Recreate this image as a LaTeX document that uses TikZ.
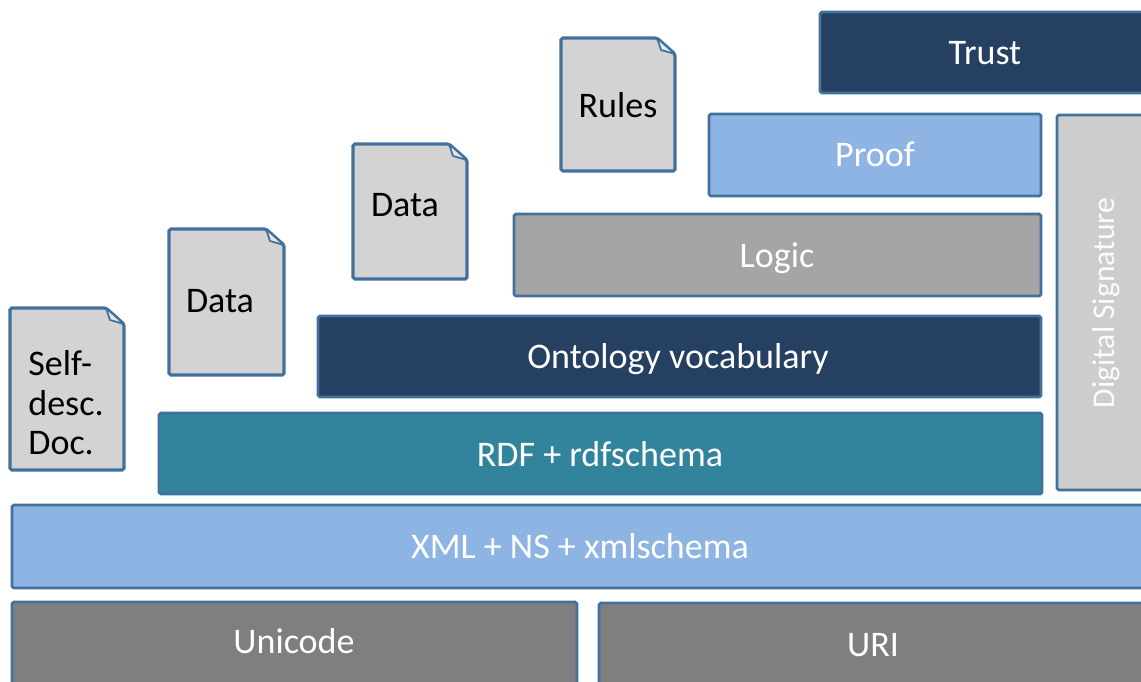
\documentclass[tikz,border=0pt]{standalone}
\usepackage{fontspec}
\setmainfont{Carlito}
\definecolor{edge}{HTML}{41719C}
\definecolor{navy}{HTML}{254061}
\definecolor{skyblue}{HTML}{8EB4E3}
\definecolor{midgray}{HTML}{A5A5A5}
\definecolor{darkgray}{HTML}{7F7F7F}
\definecolor{teal}{HTML}{31849B}
\definecolor{siggray}{HTML}{CDCDCD}
\definecolor{docgray}{HTML}{D3D3D3}
\tikzset{
  layer/.style={draw=edge, line width=1.6pt, rounded corners=1pt},
  doc/.style={draw=edge, fill=docgray, line width=1.8pt, rounded corners=1pt},
  fold/.style={draw=edge, fill=docgray!80!edge!40, line width=1pt, line join=round},
  txt/.style={text=white, font=\fontsize{20.5}{22.5}\selectfont, text height=13.2pt, text depth=0pt},
  doctxt/.style={txt, text=black, align=left}
}
\begin{document}
\begin{tikzpicture}[x=0.02cm,y=-0.02cm]
\useasboundingbox (0,0) rectangle (1141,681);
\clip (0,0) rectangle (1141,681);
% the stack of layers
\filldraw[layer, fill=navy] (820,12) rectangle (1150,93);
\filldraw[layer, fill=skyblue] (709,114) rectangle (1041,196);
\filldraw[layer, fill=midgray] (514,214) rectangle (1041,296);
\filldraw[layer, fill=navy] (318,316) rectangle (1041,397);
\filldraw[layer, fill=teal] (159,413) rectangle (1042,494);
\filldraw[layer, fill=skyblue] (12,505) rectangle (1148,588);
\filldraw[layer, fill=darkgray] (12,602) rectangle (577,685);
\filldraw[layer, fill=darkgray] (599,603) rectangle (1147,688);
\filldraw[layer, fill=siggray] (1057,115) rectangle (1153,490);
\node[txt] (trust) at (985,53) {Trust};
\node[txt] (proof) at (875,155) {Proof};
\node[txt] (logic) at (777,256) {Logic};
\node[txt] (ontology) at (678,357) {Ontology vocabulary};
\node[txt] (rdf) at (600,455) {RDF + rdfschema};
\node[txt] (xml) at (580,547) {XML + NS + xmlschema};
\node[txt] (unicode) at (294,642) {Unicode};
\node[txt] (uri) at (873,645) {URI};
\node[txt, font=\fontsize{18}{20}\selectfont, text height=11.6pt, text=white!95!siggray, rotate=90] (signature) at (1104,303) {Digital Signature};
% documents with a folded corner
\foreach \xa/\ya/\xb/\yb in {10/308/124/470, 169/229/284/375, 353/144/467/279, 561/38/675/171} {
  \filldraw[doc] (\xa,\ya) -- (\xb-18,\ya) -- (\xb,\ya+16) -- (\xb,\yb) -- (\xa,\yb) -- cycle;
  \filldraw[fold] (\xb-18,\ya) -- (\xb-14,\ya+12) -- (\xb,\ya+16) -- cycle;
}
\node[doctxt] (selfdoc) at (66,443) {Self-\\desc.\\Doc.};
\node[doctxt] (data) at (220,301) {Data};
\node[doctxt] (moredata) at (405,205) {Data};
\node[doctxt] (rules) at (618,106) {Rules};
\end{tikzpicture}
\end{document}
